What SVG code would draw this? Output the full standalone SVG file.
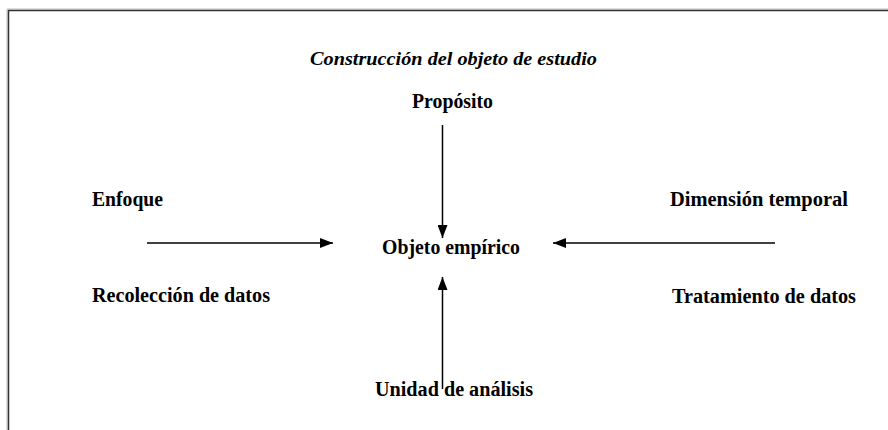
<svg xmlns="http://www.w3.org/2000/svg" width="888" height="430" viewBox="0 0 888 430">
<style>
.t{font-family:"Liberation Serif","DejaVu Serif","Times New Roman",serif;font-weight:bold;font-size:20.5px;fill:#000}
.ti{font-family:"Liberation Serif","DejaVu Serif","Times New Roman",serif;font-weight:bold;font-style:italic;font-size:18.5px;fill:#000}
.c{stroke:#000;stroke-width:1.5;fill:none;marker-end:url(#ah)}
</style>
<defs>
<marker id="ah" viewBox="0 0 13 10" refX="13" refY="5" markerWidth="13" markerHeight="10" markerUnits="userSpaceOnUse" orient="auto">
<path d="M0,0 L13,5 L0,10 Z" fill="#000"/>
</marker>
</defs>
<rect width="888" height="430" fill="#fff"/>
<g id="frame">
<line x1="7" y1="9" x2="888" y2="9" stroke="#bbb" stroke-width="1"/>
<line x1="7" y1="9" x2="7" y2="430" stroke="#bbb" stroke-width="1"/>
<line x1="8" y1="10.5" x2="888" y2="10.5" stroke="#333" stroke-width="1.5"/>
<line x1="8.5" y1="10" x2="8.5" y2="430" stroke="#333" stroke-width="1.5"/>
</g>
<g id="title"><text class="ti" x="310" y="65" textLength="287" lengthAdjust="spacingAndGlyphs">Construcción del objeto de estudio</text></g>
<g id="proposito"><text class="t" x="412" y="108" textLength="81" lengthAdjust="spacingAndGlyphs">Propósito</text></g>
<g id="objeto"><text class="t" x="382" y="254" textLength="138" lengthAdjust="spacingAndGlyphs">Objeto empírico</text></g>
<g id="unidad"><text class="t" x="375" y="396" textLength="158" lengthAdjust="spacingAndGlyphs">Unidad de análisis</text></g>
<g id="enfoque"><text class="t" x="92" y="206" textLength="71" lengthAdjust="spacingAndGlyphs">Enfoque</text></g>
<g id="recoleccion"><text class="t" x="92" y="302" textLength="178" lengthAdjust="spacingAndGlyphs">Recolección de datos</text></g>
<g id="dimension"><text class="t" x="670" y="206" textLength="178" lengthAdjust="spacingAndGlyphs">Dimensión temporal</text></g>
<g id="tratamiento"><text class="t" x="672" y="303" textLength="184" lengthAdjust="spacingAndGlyphs">Tratamiento de datos</text></g>
<g id="connectors">
<line class="c" x1="442.5" y1="125" x2="442.5" y2="238"/>
<line class="c" x1="442.5" y1="389" x2="442.5" y2="277"/>
<line class="c" x1="147" y1="243" x2="333" y2="243"/>
<line class="c" x1="775" y1="243" x2="553" y2="243"/>
</g>
</svg>
